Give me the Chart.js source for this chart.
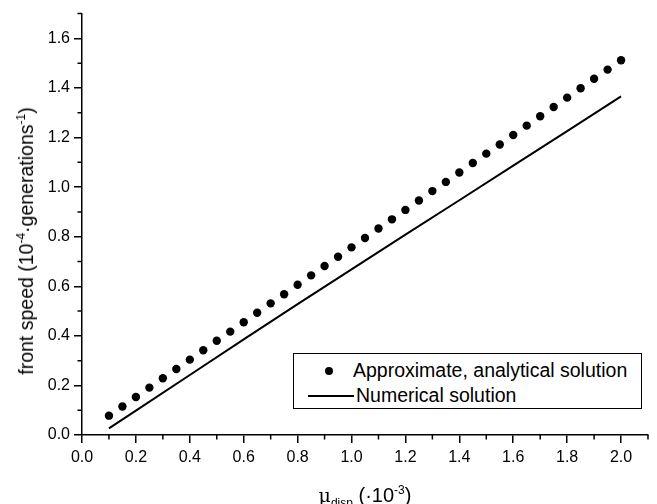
<!DOCTYPE html>
<html>
<head>
<meta charset="utf-8">
<script src="https://cdn.jsdelivr.net/npm/chart.js@4.4.1/dist/chart.umd.min.js"></script>
<style>
  html, body { margin: 0; padding: 0; background: #fff; }
  .wrap { position: relative; width: 657px; height: 504px; overflow: hidden; font-family: "Liberation Sans", Arial, sans-serif; color: #000; }
  canvas { position: absolute; left: 0; top: 0; }
  .ytitle {
    position: absolute; left: 26px; top: 241px; white-space: nowrap;
    font-size: 19.5px; transform: translate(-50%, -50%) rotate(-90deg);
  }
  .xtitle { position: absolute; left: 365px; top: 483px; white-space: nowrap; font-size: 20px; transform: translateX(-50%); }
  .mu { font-family: "DejaVu Serif", serif; font-size: 19px; }
  sup, sub { font-size: 12px; }
  sup { vertical-align: 8px; }
  sub { vertical-align: -5px; }
  .legend {
    position: absolute; left: 293px; top: 353px; width: 347px; height: 54px;
    border: 1px solid #000; font-size: 19.5px; background: #fff;
  }
  .legend .row { position: absolute; left: 0; white-space: nowrap; }
  .legend .dot { position: absolute; width: 8px; height: 8px; border-radius: 50%; background: #000; }
  .legend .line { position: absolute; height: 2px; background: #000; }
</style>
</head>
<body>
<div class="wrap">
  <canvas id="chart" width="657" height="504"></canvas>
  <div class="ytitle">front speed (10<sup>-4</sup>·generations<sup>-1</sup>)</div>
  <div class="xtitle"><span class="mu">μ</span><sub>disp</sub> (·10<sup>-3</sup>)</div>
  <div class="legend">
    <div class="dot" style="left:31px; top:13px;"></div>
    <div class="row" style="left:59px; top:5px;">Approximate, analytical solution</div>
    <div class="line" style="left:14px; top:41px; width:46px;"></div>
    <div class="row" style="left:62px; top:30px;">Numerical solution</div>
  </div>
</div>
<script>
// approximate, analytical solution (dots)
const approxX = [0.10, 0.15, 0.20, 0.25, 0.30, 0.35, 0.40, 0.45, 0.50, 0.55,
                 0.60, 0.65, 0.70, 0.75, 0.80, 0.85, 0.90, 0.95, 1.00, 1.05,
                 1.10, 1.15, 1.20, 1.25, 1.30, 1.35, 1.40, 1.45, 1.50, 1.55,
                 1.60, 1.65, 1.70, 1.75, 1.80, 1.85, 1.90, 1.95, 2.00];
const approxY = [0.078, 0.115, 0.153, 0.191, 0.229, 0.266, 0.304, 0.342, 0.380, 0.417,
                 0.455, 0.493, 0.531, 0.568, 0.606, 0.644, 0.682, 0.719, 0.757, 0.795,
                 0.833, 0.870, 0.908, 0.946, 0.984, 1.021, 1.059, 1.097, 1.135, 1.172,
                 1.210, 1.248, 1.286, 1.323, 1.361, 1.399, 1.437, 1.474, 1.512];

// numerical solution (line)
const numX = [0.1, 0.2, 0.4, 0.6, 0.8, 1.0, 1.2, 1.4, 1.6, 1.8, 2.0];
const numY = [0.027, 0.098, 0.242, 0.386, 0.528, 0.668, 0.808, 0.947, 1.087, 1.226, 1.366];

const xTicks = [0.0, 0.2, 0.4, 0.6, 0.8, 1.0, 1.2, 1.4, 1.6, 1.8, 2.0];
const yTicks = [0.0, 0.2, 0.4, 0.6, 0.8, 1.0, 1.2, 1.4, 1.6];
const xMinor = [0.1, 0.3, 0.5, 0.7, 0.9, 1.1, 1.3, 1.5, 1.7, 1.9, 2.1];
const yMinor = [0.1, 0.3, 0.5, 0.7, 0.9, 1.1, 1.3, 1.5, 1.7];

const tickFont = { family: "'Liberation Sans', Arial, sans-serif", size: 16 };

// small outward ticks between the labelled ones
const minorTicks = {
  id: 'minorTicks',
  afterDraw(chart) {
    const ctx = chart.ctx;
    const xs = chart.scales.x, ys = chart.scales.y;
    ctx.save();
    ctx.strokeStyle = '#000';
    ctx.lineWidth = 1.5;
    ctx.beginPath();
    xMinor.forEach(v => {
      const px = xs.getPixelForValue(v);
      ctx.moveTo(px, ys.bottom);
      ctx.lineTo(px, ys.bottom + 4.5);
    });
    yMinor.forEach(v => {
      const py = ys.getPixelForValue(v);
      ctx.moveTo(xs.left, py);
      ctx.lineTo(xs.left - 4.5, py);
    });
    ctx.stroke();
    ctx.restore();
  }
};

new Chart(document.getElementById('chart'), {
  type: 'scatter',
  data: {
    datasets: [
      {
        label: 'Approximate, analytical solution',
        data: approxX.map((x, i) => ({ x: x, y: approxY[i] })),
        showLine: false,
        pointRadius: 4.2,
        pointBackgroundColor: '#000',
        pointBorderWidth: 0
      },
      {
        label: 'Numerical solution',
        data: numX.map((x, i) => ({ x: x, y: numY[i] })),
        showLine: true,
        borderColor: '#000',
        borderWidth: 2,
        pointRadius: 0,
        tension: 0
      }
    ]
  },
  options: {
    responsive: false,
    animation: false,
    layout: { padding: { top: 13, right: 9, left: 0, bottom: 0 } },
    plugins: { legend: { display: false }, tooltip: { enabled: false } },
    scales: {
      x: {
        type: 'linear', min: 0, max: 2.1,
        afterFit: s => { s.height = 69; },
        afterBuildTicks: s => { s.ticks = xTicks.map(v => ({ value: v })); },
        grid: { drawOnChartArea: false, color: '#000', lineWidth: 1.5, tickLength: 8 },
        border: { color: '#000', width: 1.5 },
        ticks: { color: '#000', font: tickFont, padding: 5, maxRotation: 0,
                 callback: v => v.toFixed(1) }
      },
      y: {
        type: 'linear', min: 0, max: 1.7,
        afterFit: s => { s.width = 82; },
        afterBuildTicks: s => { s.ticks = yTicks.map(v => ({ value: v })); },
        grid: { drawOnChartArea: false, color: '#000', lineWidth: 1.5, tickLength: 8 },
        border: { color: '#000', width: 1.5 },
        ticks: { color: '#000', font: tickFont, padding: 4,
                 callback: v => v.toFixed(1) }
      }
    }
  },
  plugins: [minorTicks]
});
</script>
</body>
</html>
